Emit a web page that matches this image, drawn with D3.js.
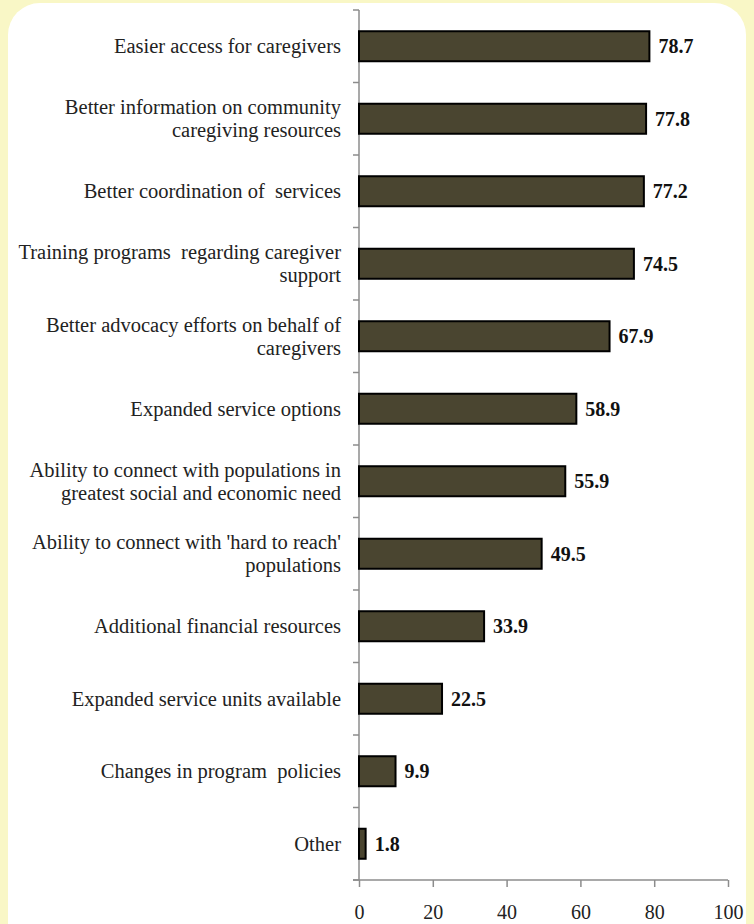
<!DOCTYPE html>
<html>
<head>
<meta charset="utf-8">
<script src="https://cdn.jsdelivr.net/npm/d3@7"></script>
<style>
  body { margin: 0; background: #f9f7c6; }
  svg { display: block; }
</style>
</head>
<body>
<svg id="chart" width="754" height="924"></svg>
<script>
const categories = [
  ["Easier access for caregivers"],
  ["Better information on community", "caregiving resources"],
  ["Better coordination of  services"],
  ["Training programs  regarding caregiver", "support"],
  ["Better advocacy efforts on behalf of", "caregivers"],
  ["Expanded service options"],
  ["Ability to connect with populations in", "greatest social and economic need"],
  ["Ability to connect with 'hard to reach'", "populations"],
  ["Additional financial resources"],
  ["Expanded service units available"],
  ["Changes in program  policies"],
  ["Other"]
];
const values = [78.7, 77.8, 77.2, 74.5, 67.9, 58.9, 55.9, 49.5, 33.9, 22.5, 9.9, 1.8];
const xTicks = [0, 20, 40, 60, 80, 100];

const svg = d3.select("#chart");
const font = "'Liberation Serif', 'Times New Roman', serif";

// white rounded panel
svg.append("rect")
  .attr("x", 8).attr("y", 3)
  .attr("width", 738).attr("height", 960)
  .attr("rx", 32)
  .attr("fill", "#fff");

const plotLeft = 359, plotRight = 728, plotTop = 10, plotBottom = 880;
const ids = d3.range(categories.length);

const x = d3.scaleLinear().domain([0, 100]).range([plotLeft, plotRight]);
const y = d3.scaleBand().domain(ids).range([plotTop, plotBottom]).paddingInner(0.586).paddingOuter(0.293);
const band = d3.scaleBand().domain(ids).range([plotTop, plotBottom]);

const axisColor = "#8c8c8c";

// y axis: line with ticks at band boundaries
svg.append("line")
  .attr("x1", plotLeft).attr("x2", plotLeft)
  .attr("y1", plotTop).attr("y2", plotBottom)
  .attr("stroke", axisColor).attr("stroke-width", 1.5);
svg.selectAll(".ytick")
  .data(d3.range(categories.length + 1))
  .join("line")
  .attr("x1", plotLeft - 6).attr("x2", plotLeft)
  .attr("y1", i => plotTop + i * band.step())
  .attr("y2", i => plotTop + i * band.step())
  .attr("stroke", axisColor).attr("stroke-width", 1.5);

// x axis
const xAxis = svg.append("g")
  .attr("transform", `translate(0,${plotBottom})`)
  .call(d3.axisBottom(x).tickValues(xTicks).tickSize(7).tickPadding(18).tickSizeOuter(0));
xAxis.select(".domain").attr("stroke", axisColor).attr("stroke-width", 1.5)
  .attr("d", `M${plotLeft - 6},0H${plotRight}`);
xAxis.selectAll(".tick line").attr("stroke", axisColor).attr("stroke-width", 1.5);
xAxis.selectAll(".tick text")
  .attr("fill", "#222")
  .style("font-family", font)
  .style("font-size", "20px");

// bars
svg.selectAll(".bar")
  .data(values)
  .join("rect")
  .attr("class", "bar")
  .attr("x", x(0))
  .attr("y", (d, i) => y(i))
  .attr("width", d => x(d) - x(0))
  .attr("height", y.bandwidth())
  .attr("fill", "#4a4530")
  .attr("stroke", "#000")
  .attr("stroke-width", 2);

// value labels
svg.selectAll(".val")
  .data(values)
  .join("text")
  .attr("class", "val")
  .attr("x", d => x(d) + 9)
  .attr("y", (d, i) => y(i) + y.bandwidth() / 2)
  .attr("dy", "0.35em")
  .attr("fill", "#111")
  .style("font-family", font)
  .style("font-weight", "bold")
  .style("font-size", "20px")
  .text(d => d.toFixed(1));

// category labels
const lineH = 23;
svg.selectAll(".cat")
  .data(categories)
  .join("text")
  .attr("class", "cat")
  .attr("text-anchor", "end")
  .attr("fill", "#222")
  .style("font-family", font)
  .style("font-size", "20.5px")
  .style("white-space", "pre")
  .each(function(lines, i) {
    const cy = y(i) + y.bandwidth() / 2;
    const t = d3.select(this);
    lines.forEach((s, j) => {
      t.append("tspan")
        .attr("x", 341)
        .attr("y", cy + (j - (lines.length - 1) / 2) * lineH)
        .attr("dy", "0.35em")
        .text(s);
    });
  });
</script>
</body>
</html>
